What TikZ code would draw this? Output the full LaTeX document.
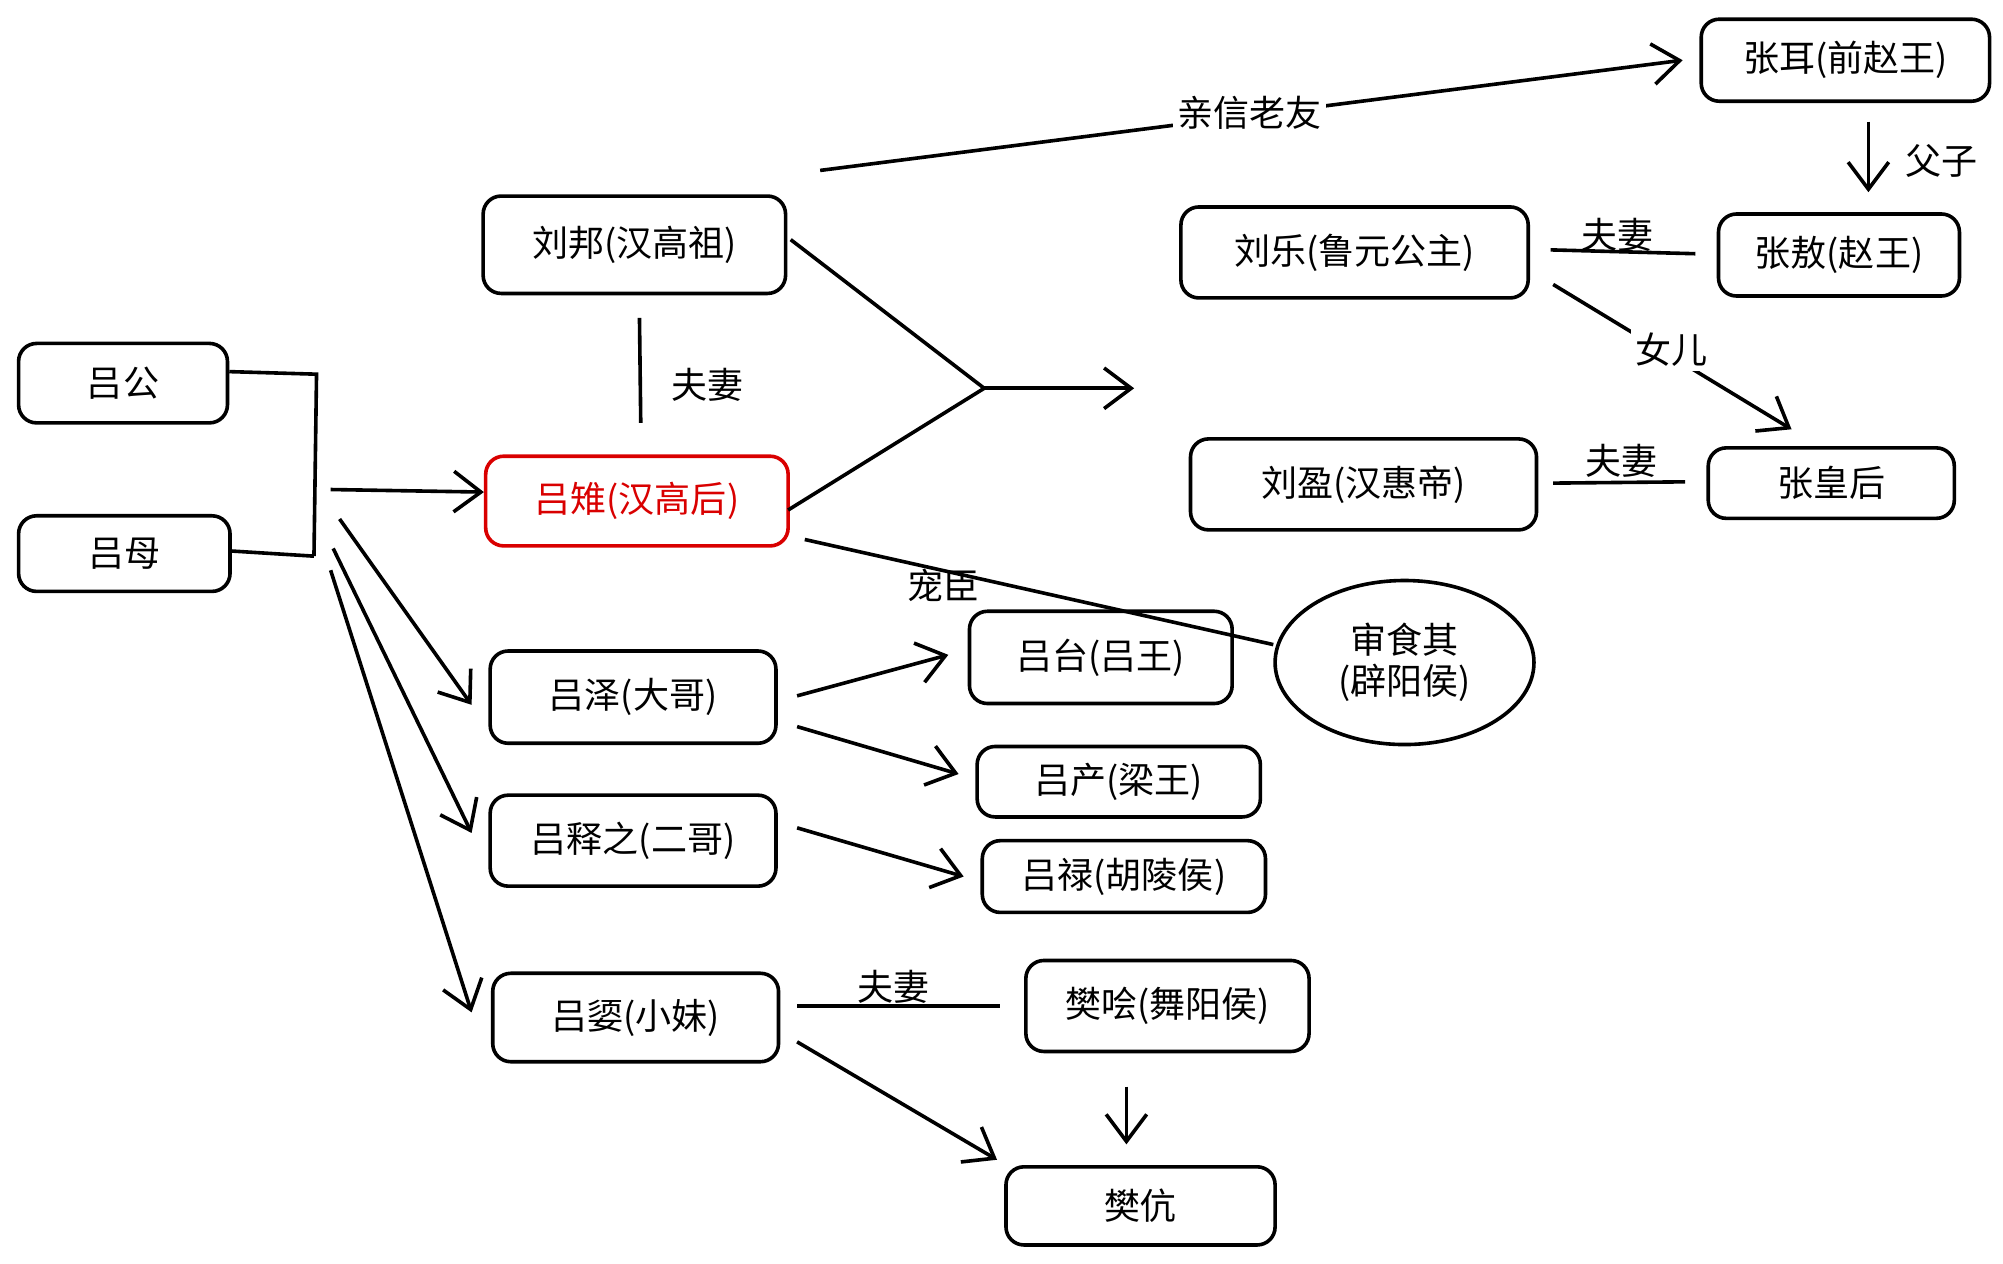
\documentclass[tikz,border=0pt]{standalone}
\usepackage{fontspec}
\setmainfont{Noto Sans CJK SC}
\usetikzlibrary{arrows.meta,shapes.geometric}
\begin{document}
\begin{tikzpicture}[x=0.01cm,y=-0.01cm,
 box/.style={draw,line width=0.8pt,rounded corners=4pt,font=\fontsize{8}{9}\selectfont},
 lbl/.style={font=\fontsize{8}{9}\selectfont,fill=white,inner sep=1pt},
 ln/.style={line width=0.8pt},
 arr/.style={ln,-{Straight Barb[length=6pt,width=9pt]}}]
\useasboundingbox (0,0) rectangle (1563,986);
\node[box,minimum width=163*0.01cm,minimum height=62*0.01cm] (lg) at (96,299) {吕公};
\node[box,minimum width=165*0.01cm,minimum height=59*0.01cm] (lm) at (97,432) {吕母};
\node[box,minimum width=236*0.01cm,minimum height=76*0.01cm] (lb) at (495,191) {刘邦(汉高祖)};
\node[box,draw=red!85!black,text=red!85!black,minimum width=236*0.01cm,minimum height=70*0.01cm] (lz) at (497,391) {吕雉(汉高后)};
\node[box,minimum width=223*0.01cm,minimum height=72*0.01cm] (lze) at (494,544) {吕泽(大哥)};
\node[box,minimum width=223*0.01cm,minimum height=71*0.01cm] (lsz) at (494,656) {吕释之(二哥)};
\node[box,minimum width=223*0.01cm,minimum height=69*0.01cm] (lx) at (496,794) {吕媭(小妹)};
\node[box,minimum width=225*0.01cm,minimum height=64*0.01cm] (ze) at (1440,47) {张耳(前赵王)};
\node[box,minimum width=271*0.01cm,minimum height=71*0.01cm] (ll) at (1057,197) {刘乐(鲁元公主)};
\node[box,minimum width=188*0.01cm,minimum height=64*0.01cm] (za) at (1435,199) {张敖(赵王)};
\node[box,minimum width=270*0.01cm,minimum height=71*0.01cm] (ly) at (1064,378) {刘盈(汉惠帝)};
\node[box,minimum width=192*0.01cm,minimum height=55*0.01cm] (zh) at (1429,377) {张皇后};
\node[box,minimum width=205*0.01cm,minimum height=72*0.01cm] (lt) at (859,513) {吕台(吕王)};
\node[box,ellipse,minimum width=202*0.01cm,minimum height=128*0.01cm,align=center] (sy) at (1096,517) {审食其\\(辟阳侯)};
\node[box,minimum width=221*0.01cm,minimum height=55*0.01cm] (lc) at (873,610) {吕产(梁王)};
\node[box,minimum width=221*0.01cm,minimum height=56*0.01cm] (lu) at (877,684) {吕禄(胡陵侯)};
\node[box,minimum width=221*0.01cm,minimum height=71*0.01cm] (fk) at (911,785) {樊哙(舞阳侯)};
\node[box,minimum width=210*0.01cm,minimum height=61*0.01cm] (fg) at (890,941) {樊伉};
% parents bracket
\coordinate (b1) at (247,292); \coordinate (b2) at (245,434);
\draw[ln] (lg.east|-0,290) -- (b1) -- (b2);
\draw[ln] (lm.east|-0,430) -- (b2);
\draw[arr] (258,382) -- (lz.west|-0,384);
\draw[arr] (265,405) -- (368,550);
\draw[arr] (260,428) -- (368,650);
\draw[arr] (258,445) -- (368,790);
% couple
\draw[ln] (499,248) -- (500,330);
\node[lbl] at (552,300) {夫妻};
\coordinate (m) at (768,303);
\draw[ln] (617,187) -- (m); \draw[ln] (615,398) -- (m);
\draw[arr] (m) -- (885,303);
\draw[arr] (640,133) -- (1313,47);
\node[lbl] at (975,88) {亲信老友};
\draw[arr] (1458,95) -- (1458,150);
\node[lbl] at (1515,126) {父子};
\draw[ln] (1210,195) -- (1323,198);
\node[font=\fontsize{8}{9}\selectfont] at (1262,183) {夫妻};
\draw[arr] (1212,222) -- (1398,335);
\node[lbl] at (1304,273) {女儿};
\draw[ln] (1212,377) -- (1315,376);
\node[font=\fontsize{8}{9}\selectfont] at (1265,360) {夫妻};
\draw[ln] (628,421) -- (sy.west|-0,503);
\node[font=\fontsize{8}{9}\selectfont] at (736,457) {宠臣};
\draw[arr] (622,543) -- (740,511);
\draw[arr] (622,567) -- (748,604);
\draw[arr] (622,646) -- (752,684);
\draw[ln] (622,785) -- (780,785);
\node[font=\fontsize{8}{9}\selectfont] at (697,770) {夫妻};
\draw[arr] (622,813) -- (778,905);
\draw[arr] (879,848) -- (879,893);
\end{tikzpicture}
\end{document}
